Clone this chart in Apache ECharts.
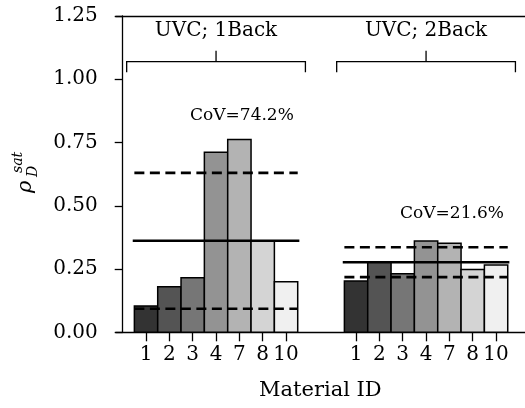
<!DOCTYPE html>
<html>
<head>
    <meta charset="utf-8">
    <title></title>
    <style type="text/css">
        html, body { margin: 0; padding: 0; background: #fff; }
        #main { width: 525px; height: 408px; }
    </style>
</head>
<body>
<div id="main"></div>
<script type="text/javascript" src="https://cdn.jsdelivr.net/npm/echarts@6/dist/echarts.min.js"></script>
<script type="text/javascript">
    // 材料编号与两组数据
    var materials = ['1', '2', '3', '4', '7', '8', '10'];
    var groups = ['UVC; 1Back', 'UVC; 2Back'];
    var groupCenters = [4, 13];
    var rho1Back = [0.104, 0.180, 0.216, 0.712, 0.762, 0.361, 0.200];
    var rho2Back = [0.203, 0.279, 0.231, 0.361, 0.352, 0.248, 0.266];
    var means = [0.362, 0.277];
    var upper = [0.630, 0.336];
    var lower = [0.093, 0.218];
    var covText = ['CoV=74.2%', 'CoV=21.6%'];
    var covPos = [[5.11, 0.857], [14.11, 0.471]];
    var yTicks = [0, 0.25, 0.5, 0.75, 1.0, 1.25];

    var greys = ['#333333', '#545454', '#767676', '#939393', '#b3b3b3', '#d4d4d4', '#f0f0f0'];
    var FONT = "'DejaVu Serif', serif";

    var barData = [];
    var xTickVals = [];
    [rho1Back, rho2Back].forEach(function (arr, g) {
        arr.forEach(function (v, i) {
            var x = groupCenters[g] - 3 + i;
            barData.push([x, v, i]);
            xTickVals.push(x);
        });
    });

    function hLine(g, y, half) {
        return [[groupCenters[g] - half, y], [groupCenters[g] + half, y]];
    }

    var lineSeries = [];
    for (var g = 0; g < 2; g++) {
        lineSeries.push({
            type: 'line', data: hLine(g, means[g], 3.57), symbol: 'none', silent: true, z: 5,
            lineStyle: { color: '#000', width: 2.6 }
        });
        [upper[g], lower[g]].forEach(function (v) {
            lineSeries.push({
                type: 'line', data: hLine(g, v, 3.5), symbol: 'none', silent: true, z: 5,
                lineStyle: { color: '#000', width: 2.6, type: [10, 5.5] }
            });
        });
    }

    var myChart = echarts.init(document.getElementById('main'));

    var option = {
        animation: false,
        backgroundColor: '#fff',
        grid: { left: 115.7, right: 0, top: 16, bottom: 75.7 },
        xAxis: [{
            type: 'value', min: -0.3, max: 17.24,
            splitLine: { show: false },
            axisLine: { lineStyle: { color: '#000', width: 1.3 } },
            axisTick: { length: 9, inside: false, lineStyle: { color: '#000', width: 1.3 }, customValues: xTickVals },
            axisLabel: {
                customValues: xTickVals, margin: 12, color: '#000', fontFamily: FONT, fontSize: 20,
                formatter: function (v) {
                    var idx = Math.round(v) - (v > 8 ? 10 : 1);
                    return materials[idx];
                }
            },
            name: 'Material ID', nameLocation: 'middle', nameGap: 48,
            nameTextStyle: { color: '#000', fontFamily: FONT, fontSize: 21 }
        }, {
            type: 'value', position: 'top', min: -0.3, max: 17.24,
            splitLine: { show: false }, axisTick: { show: false }, axisLabel: { show: false },
            axisLine: { lineStyle: { color: '#000', width: 1.3 } }
        }],
        yAxis: {
            type: 'value', min: 0, max: 1.25, interval: 0.25,
            splitLine: { show: false },
            axisLine: { show: true, lineStyle: { color: '#000', width: 1.3 } },
            axisTick: { show: true, length: 8, lineStyle: { color: '#000', width: 1.3 } },
            axisLabel: {
                margin: 18, color: '#000', fontFamily: FONT, fontSize: 20,
                customValues: yTicks,
                formatter: function (v) { return v.toFixed(2); }
            }
        },
        graphic: [{
            type: 'group', x: 0, y: 193, rotation: Math.PI / 2,
            children: [
                { type: 'text', style: { text: 'ρ', x: 0, y: 26, font: 'italic 21px ' + FONT, textAlign: 'left', textVerticalAlign: 'middle', fill: '#000' } },
                { type: 'text', style: { text: 'D', x: 16, y: 33, font: 'italic 14px ' + FONT, textAlign: 'left', textVerticalAlign: 'middle', fill: '#000' } },
                { type: 'text', style: { text: 'sat', x: 20, y: 18, font: 'italic 14px ' + FONT, textAlign: 'left', textVerticalAlign: 'middle', fill: '#000' } }
            ]
        }],
        series: [{
            type: 'custom',
            data: barData,
            z: 2,
            renderItem: function (params, api) {
                var x = api.value(0);
                var p0 = api.coord([x - 0.5, api.value(1)]);
                var p1 = api.coord([x + 0.5, 0]);
                return {
                    type: 'rect',
                    shape: { x: p0[0], y: p0[1], width: p1[0] - p0[0], height: p1[1] - p0[1] },
                    style: { fill: greys[api.value(2)], stroke: '#000', lineWidth: 1.5 }
                };
            }
        }, {
            // 括号和文字标注
            type: 'custom',
            data: [0, 1],
            z: 6,
            silent: true,
            renderItem: function (params, api) {
                var g = params.dataIndex;
                var c = groupCenters[g];
                var a = api.coord([c - 3.83, 1.028]);
                var b = api.coord([c - 3.83, 1.070]);
                var m = api.coord([c, 1.070]);
                var t = api.coord([c, 1.113]);
                var d = api.coord([c + 3.83, 1.070]);
                var e = api.coord([c + 3.83, 1.028]);
                var title = api.coord([c, 1.191]);
                var cv = api.coord(covPos[g]);
                var ls = { stroke: '#000', lineWidth: 1.3, fill: null };
                return {
                    type: 'group',
                    children: [
                        { type: 'polyline', shape: { points: [a, b, d, e] }, style: ls },
                        { type: 'line', shape: { x1: m[0], y1: m[1], x2: t[0], y2: t[1] }, style: ls },
                        { type: 'text', style: { text: groups[g], x: title[0], y: title[1], font: '20px ' + FONT, textAlign: 'center', textVerticalAlign: 'middle', fill: '#000' } },
                        { type: 'text', style: { text: covText[g], x: cv[0], y: cv[1], font: '17px ' + FONT, textAlign: 'center', textVerticalAlign: 'middle', fill: '#000' } }
                    ]
                };
            }
        }].concat(lineSeries)
    };

    myChart.setOption(option);
</script>
</body>
</html>
